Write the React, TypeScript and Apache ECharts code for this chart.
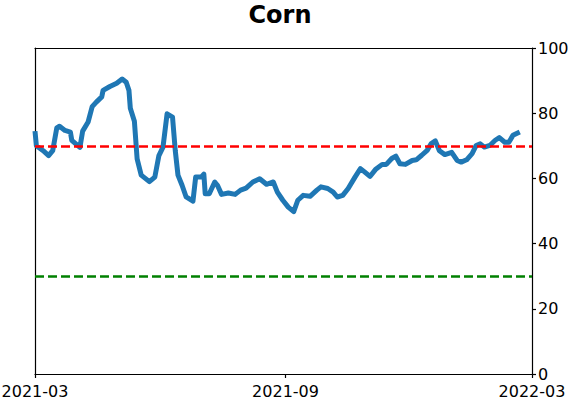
import React, { useEffect, useRef } from "react";
import * as echarts from "echarts";

const TITLE = "Corn";
const dates: string[] = [
  "2021-03-01","2021-03-02","2021-03-07","2021-03-11","2021-03-14","2021-03-17","2021-03-19","2021-03-23",
  "2021-03-27","2021-03-28","2021-04-03","2021-04-05","2021-04-09","2021-04-12","2021-04-15","2021-04-19",
  "2021-04-20","2021-04-25","2021-04-30","2021-05-04","2021-05-07","2021-05-09","2021-05-10","2021-05-13",
  "2021-05-15","2021-05-18","2021-05-24","2021-05-28","2021-05-31","2021-06-03","2021-06-06","2021-06-10",
  "2021-06-12","2021-06-14","2021-06-17","2021-06-20","2021-06-25","2021-06-27","2021-07-01","2021-07-03",
  "2021-07-04","2021-07-07","2021-07-11","2021-07-13","2021-07-16","2021-07-21","2021-07-26","2021-07-30",
  "2021-08-03","2021-08-08","2021-08-13","2021-08-18","2021-08-23","2021-08-26","2021-08-30","2021-09-03",
  "2021-09-07","2021-09-10","2021-09-14","2021-09-19","2021-09-24","2021-09-27","2021-10-02","2021-10-06",
  "2021-10-09","2021-10-13","2021-10-17","2021-10-22","2021-10-26","2021-10-29","2021-11-02","2021-11-06",
  "2021-11-11","2021-11-14","2021-11-18","2021-11-21","2021-11-24","2021-11-28","2021-12-03","2021-12-06",
  "2021-12-10","2021-12-14","2021-12-17","2021-12-20","2021-12-23","2021-12-27","2022-01-01","2022-01-05",
  "2022-01-08","2022-01-12","2022-01-16","2022-01-19","2022-01-22","2022-01-25","2022-01-29","2022-02-02",
  "2022-02-05","2022-02-09","2022-02-12","2022-02-15","2022-02-20",
];
const values: number[] = [
  74.5, 70, 68.5, 67, 68.5, 75.5, 76, 74.7,
  74.2, 71.7, 69.5, 74.5, 77.3, 82, 83.4, 85,
  87, 88.2, 89.2, 90.5, 89.5, 87, 81.5, 77.5,
  66, 61, 59, 60.4, 67, 69.6, 79.8, 78.8,
  68.6, 61, 57.9, 54.3, 53, 60.4, 60.4, 61.3,
  55.3, 55.3, 58.9, 57.9, 55.1, 55.5, 55.1, 56.4,
  57, 58.9, 59.9, 58.2, 58.9, 55.8, 53.3, 51.2,
  49.8, 53.3, 54.8, 54.5, 56.4, 57.4, 56.9, 55.8,
  54.3, 54.8, 56.9, 60.4, 63, 62, 60.6, 62.7,
  64.3, 64.3, 66.1, 66.8, 64.5, 64.3, 65.5, 65.7,
  67.1, 68.6, 70.7, 71.5, 68.5, 67.3, 68, 65.5,
  65, 65.7, 67.6, 70.1, 70.6, 69.6, 70.1, 71.7,
  72.5, 71.1, 71.1, 73.2, 74.2,
];
const upperThreshold = 70;
const lowerThreshold = 30;
const xTickDates: string[] = ["2021-03-01", "2021-09-01", "2022-03-01"];
const yTicks: number[] = [0, 20, 40, 60, 80, 100];

const toTs = (s: string) => {
  const [y, m, d] = s.split("-").map(Number);
  return new Date(y, m - 1, d).getTime();
};

export default function App() {
  const ref = useRef<HTMLDivElement>(null);
  useEffect(() => {
    if (!ref.current) return;
    const chart = echarts.init(ref.current, null, { renderer: "svg" });
    const font = "DejaVu Sans";
    const xMin = toTs(xTickDates[0]);
    const xMax = toTs(xTickDates[xTickDates.length - 1]);
    const tickTs = xTickDates.map(toTs);
    const fmt = (v: number) => {
      const d = new Date(v);
      return `${d.getFullYear()}-${String(d.getMonth() + 1).padStart(2, "0")}`;
    };
    chart.setOption({
      animation: false,
      backgroundColor: "#ffffff",
      title: {
        text: TITLE,
        left: 275,
        top: -2,
        textAlign: "center",
        textStyle: { fontFamily: font, fontWeight: "bold", fontSize: 24, color: "#000" },
      },
      grid: { left: 35, right: 40, top: 48, bottom: 28, containLabel: false, outerBoundsMode: "none" },
      xAxis: [
        {
          type: "value",
          min: xMin,
          max: xMax,
          position: "bottom",
          axisLine: { show: true, onZero: false, lineStyle: { color: "#000", width: 1.2 } },
          axisTick: { show: true, length: 4, customValues: tickTs, lineStyle: { color: "#000", width: 1.2 } },
          axisLabel: {
            show: true,
            customValues: tickTs,
            formatter: (v: number) => fmt(v),
            fontFamily: font,
            fontSize: 16,
            lineHeight: 13,
            color: "#000",
            margin: 10.5,
            hideOverlap: false,
          },
          splitLine: { show: false },
        },
        {
          type: "value",
          min: xMin,
          max: xMax,
          position: "top",
          axisLine: { show: true, onZero: false, lineStyle: { color: "#000", width: 1.2 } },
          axisTick: { show: false },
          axisLabel: { show: false },
          splitLine: { show: false },
        },
      ],
      yAxis: [
        {
          type: "value",
          position: "right",
          min: yTicks[0],
          max: yTicks[yTicks.length - 1],
          interval: 20,
          axisLine: { show: true, onZero: false, lineStyle: { color: "#000", width: 1.2 } },
          axisTick: { show: true, length: 4, lineStyle: { color: "#000", width: 1.2 } },
          axisLabel: { fontFamily: font, fontSize: 16, lineHeight: 13, color: "#000", margin: 6 },
          splitLine: { show: false },
        },
        {
          type: "value",
          position: "left",
          min: yTicks[0],
          max: yTicks[yTicks.length - 1],
          axisLine: { show: true, onZero: false, lineStyle: { color: "#000", width: 1.2 } },
          axisTick: { show: false },
          axisLabel: { show: false },
          splitLine: { show: false },
        },
      ],
      series: [
        {
          type: "line",
          data: dates.map((d, i) => [toTs(d), values[i]]),
          showSymbol: false,
          symbol: "none",
          lineStyle: { color: "#1f77b4", width: 5, join: "round", cap: "butt" },
          z: 2,
        },
        {
          type: "line",
          data: [],
          z: 3,
          markLine: {
            silent: true,
            symbol: "none",
            label: { show: false },
            data: [
              { yAxis: upperThreshold, lineStyle: { color: "#ff0000", type: [9, 4], width: 2.5 } },
              { yAxis: lowerThreshold, lineStyle: { color: "#008000", type: [9, 4], width: 2.5 } },
            ],
          },
        },
      ],
    });
    return () => chart.dispose();
  }, []);
  return (
    <div
      ref={ref}
      style={{ position: "fixed", left: 0, top: 0, width: 572, height: 402, background: "#fff" }}
    />
  );
}
